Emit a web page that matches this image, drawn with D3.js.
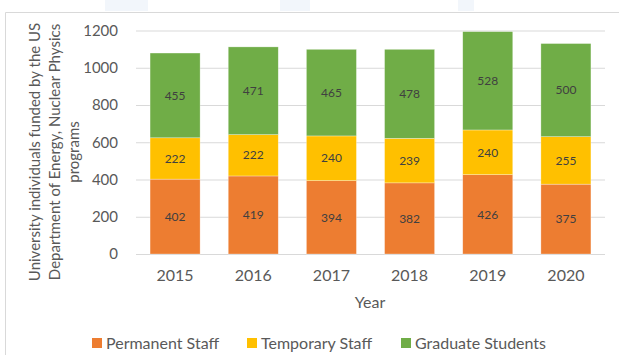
<!DOCTYPE html>
<html>
<head>
<meta charset="utf-8">
<script src="https://cdn.jsdelivr.net/npm/d3@7"></script>
<style>
  html, body { margin: 0; padding: 0; background: #fff; }
  svg { display: block; }
  text { font-family: Lato, "Open Sans", sans-serif; }
</style>
</head>
<body>
<svg id="chart" width="619" height="355"></svg>
<script>
// Funded university individuals, by year and role
const years = ["2015", "2016", "2017", "2018", "2019", "2020"];
const permanentStaff = [402, 419, 394, 382, 426, 375];
const temporaryStaff = [222, 222, 240, 239, 240, 255];
const graduateStudents = [455, 471, 465, 478, 528, 500];
const seriesNames = ["Permanent Staff", "Temporary Staff", "Graduate Students"];
const seriesColors = ["#ED7D31", "#FFC000", "#70AD47"];
const yTicks = [0, 200, 400, 600, 800, 1000, 1200];

const svg = d3.select("#chart");
const W = 619, H = 355;
const plot = { left: 136, right: 605, top: 30.5, bottom: 254 };

// faint panels along the top edge
[[105, 43], [280, 30], [458, 16]].forEach(([x, w]) => {
  svg.append("rect").attr("x", x).attr("y", 0).attr("width", w).attr("height", 11)
    .attr("fill", "#f2f6fb");
});

// chart frame
svg.append("path")
  .attr("d", `M5.5,${H} V12.5 H${W}`)
  .attr("fill", "none").attr("stroke", "#d9d9d9").attr("stroke-width", 1);

const rows = years.map((y, i) => ({
  year: y,
  "Permanent Staff": permanentStaff[i],
  "Temporary Staff": temporaryStaff[i],
  "Graduate Students": graduateStudents[i]
}));
const stacked = d3.stack().keys(seriesNames)(rows);

const x = d3.scaleBand().domain(years).range([plot.left, plot.right])
  .paddingInner(0.36).paddingOuter(0.18);
const y = d3.scaleLinear().domain([0, 1200]).range([plot.bottom, plot.top]);

// gridlines
svg.append("g")
  .attr("transform", `translate(${plot.left},0)`)
  .call(d3.axisLeft(y).tickValues(yTicks).tickSize(-(plot.right - plot.left)).tickFormat(""))
  .call(g => g.select(".domain").remove())
  .call(g => g.selectAll("line").attr("stroke", "#d9d9d9").attr("stroke-width", 1));

// y tick labels
svg.append("g")
  .attr("transform", `translate(${plot.left},0)`)
  .call(d3.axisLeft(y).tickValues(yTicks).tickSize(0).tickPadding(18).tickFormat(d3.format("d")))
  .call(g => g.select(".domain").remove())
  .call(g => g.selectAll("text").attr("fill", "#595959")
    .style("font-size", "15px").style("font-family", "Lato, sans-serif"));

// stacked bars
const layers = svg.append("g").selectAll("g").data(stacked).join("g")
  .attr("fill", (d, i) => seriesColors[i]);
layers.selectAll("rect").data(d => d).join("rect")
  .attr("x", d => x(d.data.year))
  .attr("width", x.bandwidth())
  .attr("y", d => y(d[1]))
  .attr("height", d => y(d[0]) - y(d[1]))
  .attr("stroke", "#ffffff").attr("stroke-opacity", 0.5).attr("stroke-width", 0.6);

// segment value labels
const labels = svg.append("g").selectAll("g").data(stacked).join("g");
labels.selectAll("text").data(d => d.map(s => ({ s, v: s[1] - s[0] }))).join("text")
  .attr("x", d => x(d.s.data.year) + x.bandwidth() / 2)
  .attr("y", d => y((d.s[0] + d.s[1]) / 2))
  .attr("dy", "0.35em")
  .attr("text-anchor", "middle")
  .attr("fill", "#404040")
  .style("font-size", "12px")
  .text(d => d.v);

// x axis labels
svg.append("g")
  .attr("transform", `translate(0,${plot.bottom})`)
  .call(d3.axisBottom(x).tickSize(0).tickPadding(16))
  .call(g => g.select(".domain").remove())
  .call(g => g.selectAll("text").attr("fill", "#595959")
    .style("font-size", "16px").style("font-family", "Lato, sans-serif"));

// axis titles
svg.append("text")
  .attr("x", 370).attr("y", 302).attr("dy", "0.35em")
  .attr("text-anchor", "middle").attr("fill", "#595959")
  .style("font-size", "16px").text("Year");

const yTitle = ["University individuals funded by the US", "Department of Energy, Nuclear Physics", "programs"];
svg.append("g")
  .attr("transform", "translate(35,152) rotate(-90)")
  .selectAll("text").data(yTitle).join("text")
  .attr("x", 0).attr("y", (d, i) => i * 19.5)
  .attr("dy", "0.35em")
  .attr("text-anchor", "middle").attr("fill", "#595959")
  .style("font-size", "15px")
  .text(d => d);

// legend
const legendX = [92, 247, 401];
const legend = svg.append("g").selectAll("g").data(seriesNames).join("g")
  .attr("transform", (d, i) => `translate(${legendX[i]},343)`);
legend.append("rect").attr("x", 0).attr("y", -5).attr("width", 10).attr("height", 10)
  .attr("fill", (d, i) => seriesColors[i]);
legend.append("text").attr("x", 14).attr("y", 0).attr("dy", "0.35em")
  .attr("fill", "#595959").style("font-size", "16px").text(d => d);
</script>
</body>
</html>
